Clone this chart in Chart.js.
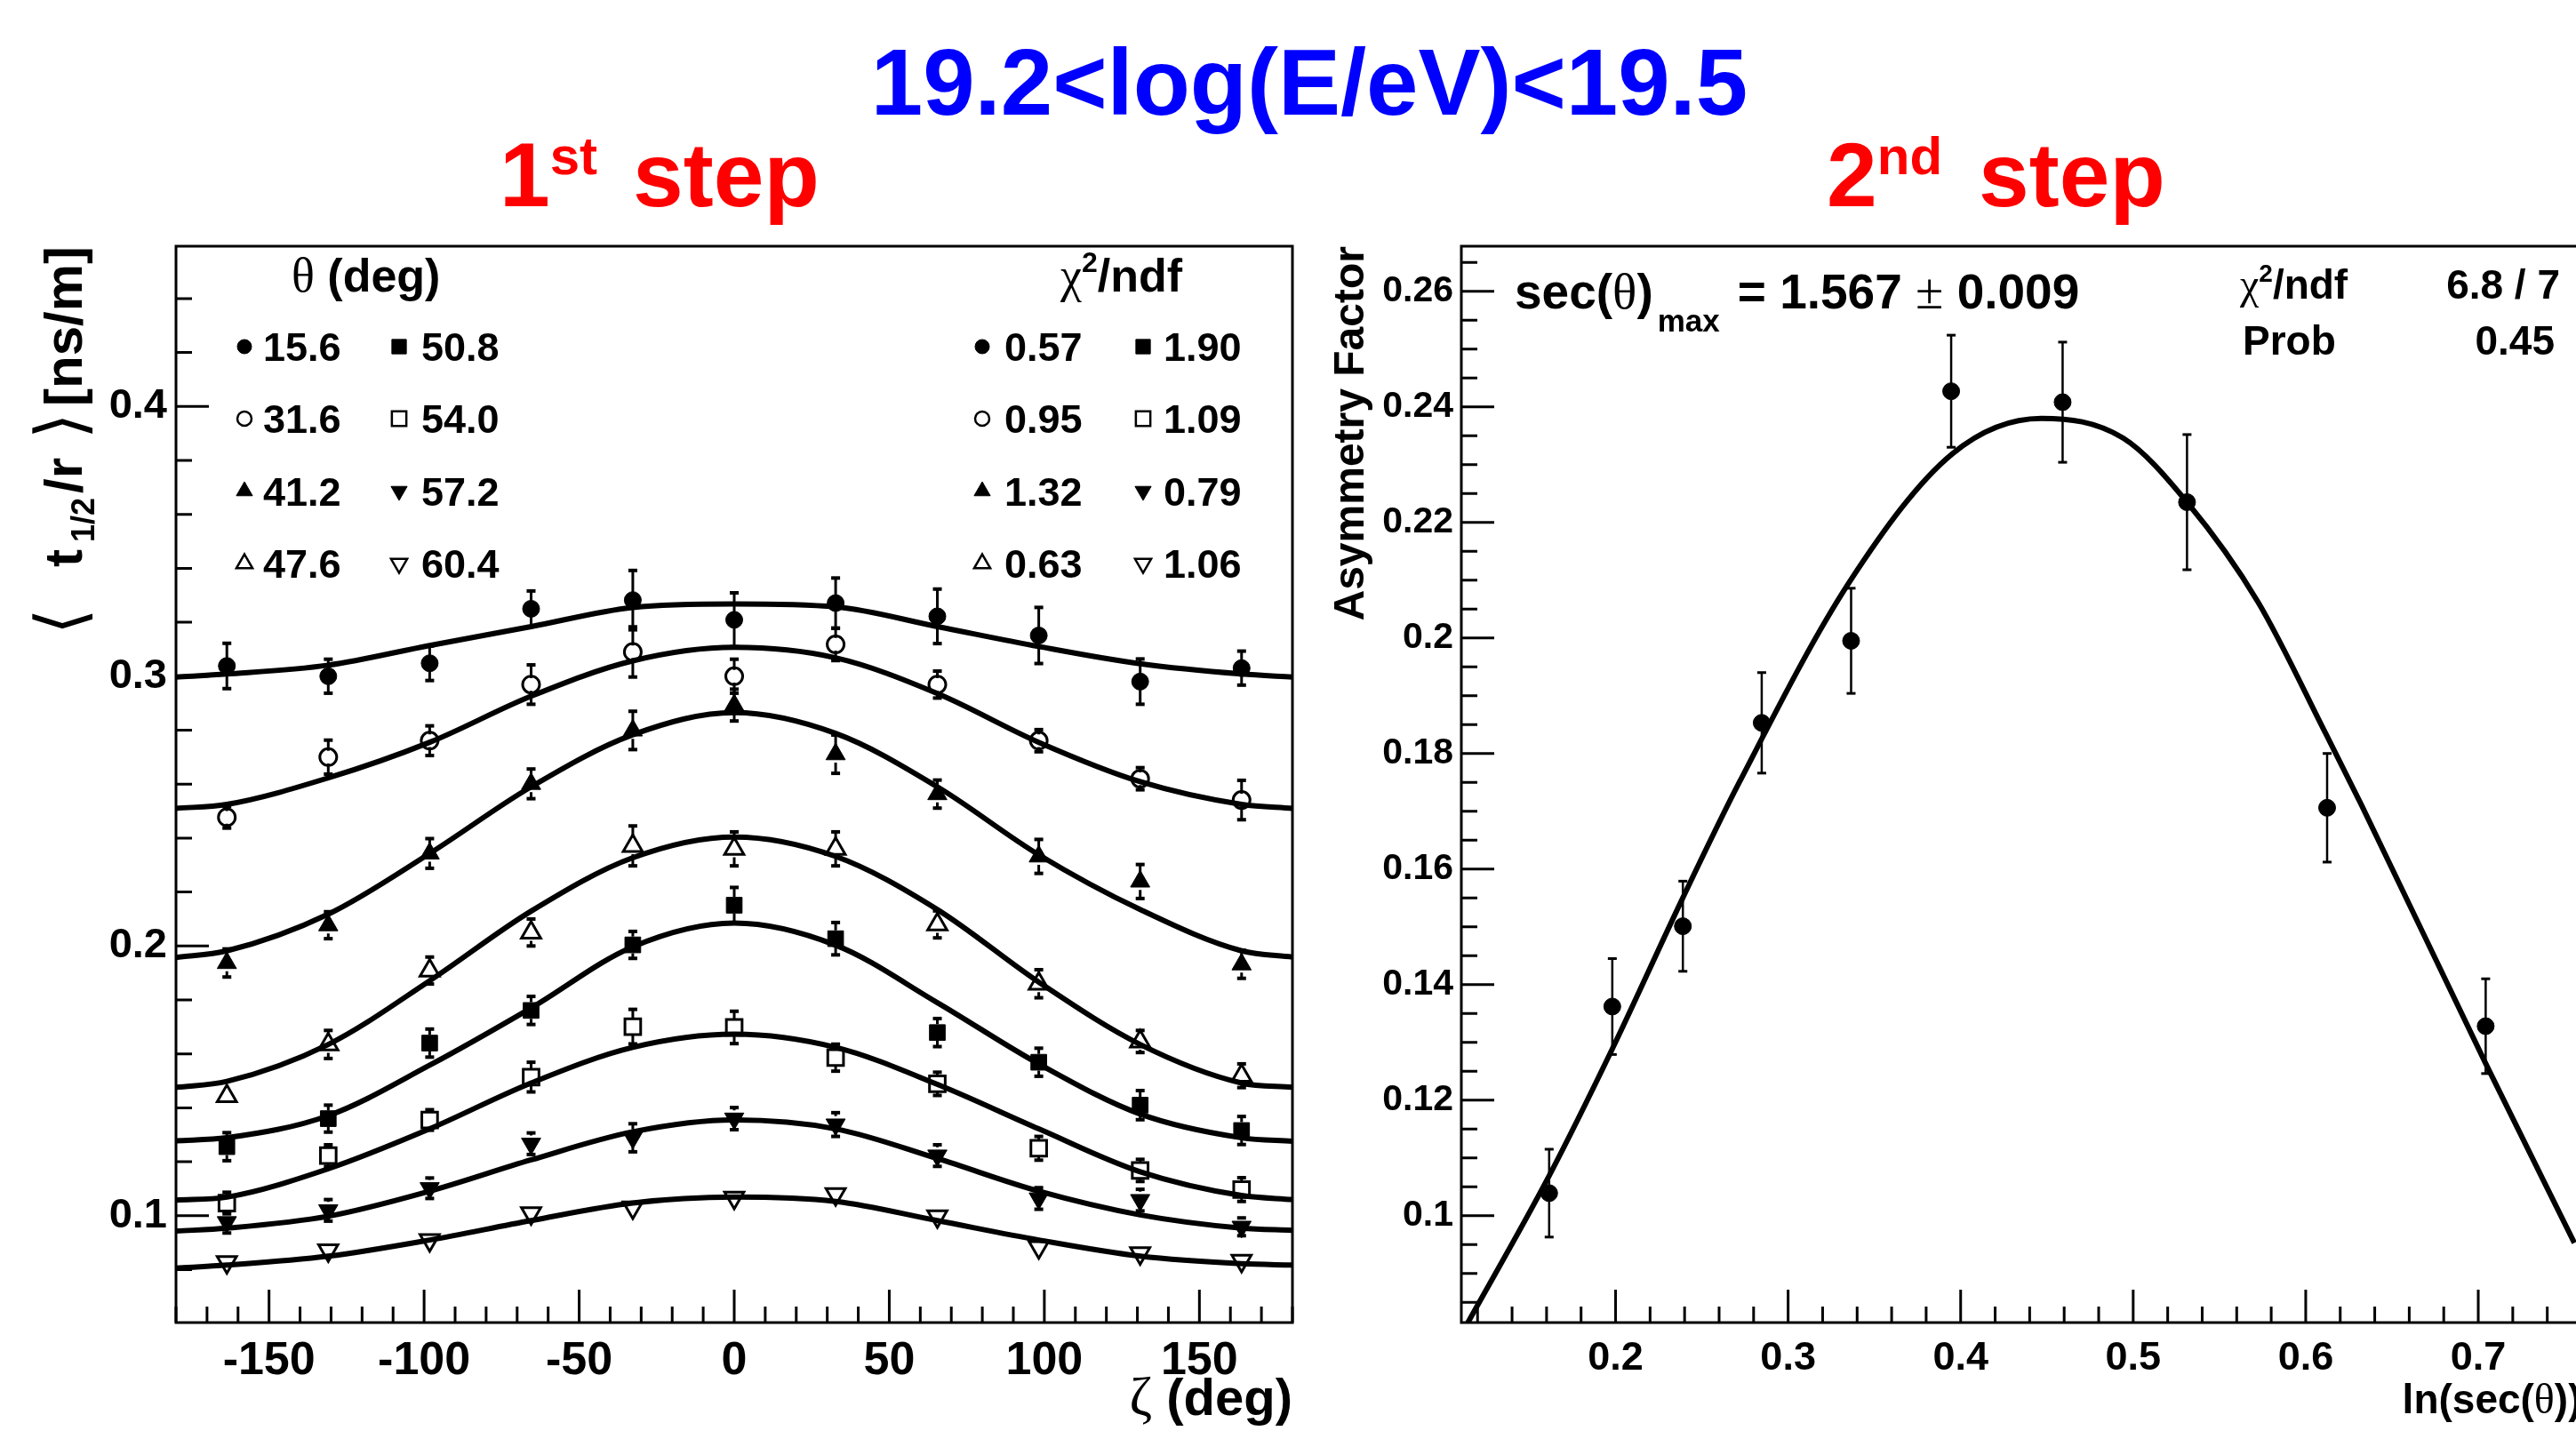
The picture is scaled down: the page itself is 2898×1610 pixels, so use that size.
<!DOCTYPE html>
<html>
<head>
<meta charset="utf-8">
<script src="https://cdn.jsdelivr.net/npm/chart.js@4/dist/chart.umd.min.js"></script>
<style>
body { margin: 0; background: #fff; }
#wrap { position: relative; width: 2898px; height: 1610px; overflow: hidden; background: #fff; }
canvas { position: absolute; top: 0; }
#title { position: absolute; top: 40px; left: 1473px; transform: translateX(-50%);
  font: bold 105px "Liberation Sans", Arial, sans-serif; line-height: 105px; color: #0000ff; white-space: nowrap; }
</style>
</head>
<body>
<div id="wrap">
  <div id="title">19.2&lt;log(E/eV)&lt;19.5</div>
  <canvas id="left" width="1460" height="1610" style="left:0"></canvas>
  <canvas id="right" width="1450" height="1610" style="left:1460px"></canvas>
</div>
<script>
// 1st step: <t1/2 / r> versus zeta, one set per zenith bin
const zeta = [-163.6, -130.9, -98.2, -65.5, -32.7, 0, 32.7, 65.5, 98.2, 130.9, 163.6];
const fitZeta = [-180, -163.6, -130.9, -98.2, -65.5, -32.7, 0, 32.7, 65.5, 98.2, 130.9, 163.6, 180];

const thetaLabels = ['15.6', '31.6', '41.2', '47.6', '50.8', '54.0', '57.2', '60.4'];
const chiLabels = ['0.57', '0.95', '1.32', '0.63', '1.90', '1.09', '0.79', '1.06'];

const val15_6 = [0.3038, 0.3000, 0.3048, 0.3250, 0.3282, 0.3209, 0.3271, 0.3222, 0.3151, 0.2980, 0.3030];
const err15_6 = [0.0084, 0.0063, 0.0064, 0.0066, 0.0110, 0.0100, 0.0093, 0.0101, 0.0104, 0.0084, 0.0063];
const fit15_6 = [0.2997, 0.3008, 0.3041, 0.3114, 0.3184, 0.3255, 0.3268, 0.3257, 0.3184, 0.3110, 0.3046, 0.3008, 0.2997];

const val31_6 = [0.2477, 0.2700, 0.2761, 0.2969, 0.3090, 0.3000, 0.3118, 0.2969, 0.2761, 0.2620, 0.2541];
const err31_6 = [0.0040, 0.0063, 0.0055, 0.0073, 0.0093, 0.0063, 0.0060, 0.0050, 0.0041, 0.0041, 0.0073];
const fit31_6 = [0.2510, 0.2525, 0.2623, 0.2755, 0.2926, 0.3057, 0.3107, 0.3068, 0.2936, 0.2755, 0.2609, 0.2525, 0.2510];

const val41_2 = [0.1937, 0.2077, 0.2343, 0.2601, 0.2799, 0.2893, 0.2711, 0.2563, 0.2332, 0.2239, 0.1932];
const err41_2 = [0.0052, 0.0050, 0.0055, 0.0055, 0.0071, 0.0059, 0.0071, 0.0052, 0.0063, 0.0063, 0.0052];
const fit41_2 = [0.1957, 0.1982, 0.2118, 0.2343, 0.2590, 0.2783, 0.2865, 0.2788, 0.2590, 0.2338, 0.2135, 0.1982, 0.1959];

const val47_6 = [0.1443, 0.1635, 0.1909, 0.2050, 0.2371, 0.2360, 0.2360, 0.2080, 0.1860, 0.1646, 0.1519];
const err47_6 = [0.0030, 0.0052, 0.0050, 0.0050, 0.0074, 0.0063, 0.0063, 0.0050, 0.0052, 0.0041, 0.0044];
const fit47_6 = [0.1476, 0.1498, 0.1635, 0.1871, 0.2129, 0.2327, 0.2404, 0.2332, 0.2135, 0.1866, 0.1635, 0.1492, 0.1476];

const val50_8 = [0.1256, 0.1360, 0.1640, 0.1761, 0.2004, 0.2151, 0.2027, 0.1679, 0.1569, 0.1410, 0.1316];
const err50_8 = [0.0052, 0.0050, 0.0052, 0.0052, 0.0050, 0.0066, 0.0060, 0.0052, 0.0052, 0.0054, 0.0052];
const fit50_8 = [0.1278, 0.1289, 0.1371, 0.1558, 0.1770, 0.1997, 0.2085, 0.2003, 0.1790, 0.1563, 0.1377, 0.1289, 0.1276];

const val54_0 = [0.1047, 0.1223, 0.1355, 0.1514, 0.1701, 0.1698, 0.1586, 0.1489, 0.1250, 0.1168, 0.1097];
const err54_0 = [0.0040, 0.0040, 0.0038, 0.0055, 0.0064, 0.0060, 0.0050, 0.0043, 0.0044, 0.0041, 0.0044];
const fit54_0 = [0.1058, 0.1069, 0.1174, 0.1322, 0.1492, 0.1624, 0.1673, 0.1624, 0.1487, 0.1322, 0.1163, 0.1075, 0.1060];

const val57_2 = [0.0976, 0.1020, 0.1102, 0.1267, 0.1289, 0.1360, 0.1338, 0.1223, 0.1064, 0.1058, 0.0959];
const err57_2 = [0.0040, 0.0040, 0.0038, 0.0040, 0.0052, 0.0041, 0.0044, 0.0040, 0.0040, 0.0040, 0.0033];
const fit57_2 = [0.0943, 0.0954, 0.0998, 0.1091, 0.1207, 0.1311, 0.1355, 0.1322, 0.1212, 0.1091, 0.1003, 0.0954, 0.0946];

const val60_4 = [0.0828, 0.0872, 0.0910, 0.1009, 0.1031, 0.1067, 0.1080, 0.0998, 0.0883, 0.0861, 0.0833];
const err60_4 = [0.0020, 0.0020, 0.0020, 0.0020, 0.0020, 0.0020, 0.0020, 0.0020, 0.0020, 0.0020, 0.0020];
const fit60_4 = [0.0806, 0.0817, 0.0850, 0.0910, 0.0982, 0.1047, 0.1069, 0.1053, 0.0982, 0.0910, 0.0850, 0.0822, 0.0817];

const zetaTicks = [-150, -100, -50, 0, 50, 100, 150];
const leftYTicks = [0.1, 0.2, 0.3, 0.4];

// 2nd step: asymmetry factor versus ln(sec(theta))
const lnSec = [0.1615, 0.1981, 0.2390, 0.2847, 0.3365, 0.3945, 0.4591, 0.5312, 0.6124, 0.7043];
const asym = [0.1039, 0.1362, 0.1501, 0.1853, 0.1995, 0.2427, 0.2408, 0.2235, 0.1706, 0.1328];
const asymErr = [0.0076, 0.0083, 0.0078, 0.0087, 0.0091, 0.0097, 0.0104, 0.0117, 0.0094, 0.0082];
const fitLnSec = [0.1131, 0.1615, 0.1980, 0.2388, 0.2717, 0.3356, 0.3953, 0.4468, 0.4941, 0.5312, 0.5724, 0.6115, 0.6321, 0.7042, 0.7557];
const fitAsym = [0.0808, 0.1069, 0.1288, 0.1549, 0.1750, 0.2097, 0.2319, 0.2380, 0.2346, 0.2235, 0.2062, 0.1835, 0.1712, 0.1264, 0.0953];

const lnSecTicks = [0.2, 0.3, 0.4, 0.5, 0.6, 0.7];
const asymTicks = [0.1, 0.12, 0.14, 0.16, 0.18, 0.2, 0.22, 0.24, 0.26];

const B = s => `bold ${s}px "Liberation Sans", Arial, sans-serif`;
const G = s => `${s}px "Liberation Serif", "DejaVu Serif", serif`;
const RIGHT_X = 1460;

const markers = [
  { style: 'circle', fill: true, rot: 0 },
  { style: 'circle', fill: false, rot: 0 },
  { style: 'triangle', fill: true, rot: 0 },
  { style: 'triangle', fill: false, rot: 0 },
  { style: 'rect', fill: true, rot: 0 },
  { style: 'rect', fill: false, rot: 0 },
  { style: 'triangle', fill: true, rot: 180 },
  { style: 'triangle', fill: false, rot: 180 }
];
const radius = { circle: 9.5, rect: 12.5, triangle: 12.5 };
const legendRadius = { circle: 8, rect: 11.5, triangle: 10.5 };

const values = [val15_6, val31_6, val41_2, val47_6, val50_8, val54_0, val57_2, val60_4];
const errors = [err15_6, err31_6, err41_2, err47_6, err50_8, err54_0, err57_2, err60_4];
const fits = [fit15_6, fit31_6, fit41_2, fit47_6, fit50_8, fit54_0, fit57_2, fit60_4];

function rich(ctx, parts, x, y, align) {
  let w = 0;
  parts.forEach(p => { ctx.font = p[1]; w += (p[3] || 0) + ctx.measureText(p[0]).width; });
  let cx = align === 'right' ? x - w : align === 'center' ? x - w / 2 : x;
  ctx.textAlign = 'left';
  ctx.textBaseline = 'alphabetic';
  parts.forEach(p => {
    ctx.font = p[1];
    cx += p[3] || 0;
    ctx.fillText(p[0], cx, y + (p[2] || 0));
    cx += ctx.measureText(p[0]).width;
  });
}

// frame plus ROOT style inward ticks
const rootAxes = {
  id: 'rootAxes',
  afterDatasetsDraw(chart, args, opts) {
    const { ctx, chartArea: a } = chart;
    ctx.save();
    ctx.strokeStyle = '#000';
    ctx.lineWidth = 3;
    ['x', 'y'].forEach(id => {
      const sc = chart.scales[id];
      const majors = sc.ticks.map(t => t.value);
      const step = opts[id];
      ctx.beginPath();
      for (let k = Math.ceil(sc.min / step - 1e-6); k * step <= sc.max + 1e-9; k++) {
        const v = k * step;
        const len = majors.some(m => Math.abs(m - v) < step / 10) ? 37 : 18;
        const p = sc.getPixelForValue(v);
        if (id === 'x') { ctx.moveTo(p, a.bottom); ctx.lineTo(p, a.bottom - len); }
        else { ctx.moveTo(a.left, p); ctx.lineTo(a.left + len, p); }
      }
      ctx.stroke();
    });
    ctx.strokeRect(a.left, a.top, a.right - a.left, a.bottom - a.top);
    ctx.restore();
  }
};

const errorBars = {
  id: 'errorBars',
  beforeDatasetsDraw(chart, args, opts) {
    const ctx = chart.ctx;
    const ys = chart.scales.y;
    ctx.save();
    ctx.strokeStyle = '#000';
    ctx.fillStyle = '#000';
    ctx.lineWidth = opts.width;
    chart.data.datasets.forEach((ds, di) => {
      if (!ds.errors) return;
      chart.getDatasetMeta(di).data.forEach((pt, i) => {
        const v = ds.data[i].y, e = ds.errors[i];
        const top = ys.getPixelForValue(v + e);
        const bot = ys.getPixelForValue(v - e);
        const gap = ds.errGap || 0;
        if (pt.y - top <= gap) return;
        ctx.beginPath();
        ctx.moveTo(pt.x, pt.y - gap); ctx.lineTo(pt.x, top);
        ctx.moveTo(pt.x, pt.y + gap); ctx.lineTo(pt.x, bot);
        ctx.stroke();
        ctx.fillRect(pt.x - opts.cap, top - opts.capH / 2, opts.cap * 2, opts.capH);
        ctx.fillRect(pt.x - opts.cap, bot - opts.capH / 2, opts.cap * 2, opts.capH);
      });
    });
    ctx.restore();
  }
};

function drawMarker(ctx, m, x, y) {
  ctx.fillStyle = m.fill ? '#000' : 'rgba(0,0,0,0)';
  ctx.strokeStyle = '#000';
  ctx.lineWidth = m.fill ? 1 : 2.5;
  Chart.helpers.drawPoint(ctx, { pointStyle: m.style, rotation: m.rot, radius: legendRadius[m.style], borderWidth: ctx.lineWidth }, x, y);
}

const leftText = {
  id: 'leftText',
  afterDraw(chart) {
    const ctx = chart.ctx;
    ctx.save();
    ctx.fillStyle = '#ff0000';
    rich(ctx, [['1', B(102)], ['st', B(60), -36], ['step', B(102), 0, 40]], 562, 232);

    ctx.fillStyle = '#000';
    rich(ctx, [['\u03b8', G(54)], [' (deg)', B(52)]], 328, 328);
    rich(ctx, [['\u03c7', G(54)], ['2', B(32), -22], ['/ndf', B(52)]], 1193, 328);
    const colX = [[275, 296, 449, 474], [1105, 1130, 1286, 1309]];
    const rowY = [406, 487, 568.5, 650];
    markers.forEach((m, i) => {
      const row = rowY[i % 4], c = i < 4 ? 0 : 2;
      [thetaLabels, chiLabels].forEach((labels, b) => {
        drawMarker(ctx, m, colX[b][c], row - 16);
        ctx.fillStyle = '#000';
        ctx.font = B(45);
        ctx.textAlign = 'left';
        ctx.fillText(labels[i], colX[b][c + 1], row);
      });
    });

    // axis titles
    rich(ctx, [['\u03b6', G(62)], [' (deg)', B(58)]], chart.chartArea.right, 1592, 'right');
    ctx.translate(92, 0);
    ctx.rotate(-Math.PI / 2);
    ctx.font = '76px "DejaVu Sans", sans-serif';
    ctx.fillText('\u27e8', -714, 2);
    ctx.font = B(60);
    ctx.fillText('t', -638, 0);
    ctx.font = B(36);
    ctx.fillText('1/2', -610, 14);
    ctx.font = B(60);
    ctx.fillText('/r', -555, 0);
    ctx.font = '76px "DejaVu Sans", sans-serif';
    ctx.fillText('\u27e9', -494, 2);
    ctx.font = B(60);
    ctx.textAlign = 'right';
    ctx.fillText('[ns/m]', -277, 0);
    ctx.restore();
  }
};

const rightText = {
  id: 'rightText',
  afterDraw(chart) {
    const ctx = chart.ctx;
    const a = chart.chartArea;
    ctx.save();
    ctx.fillStyle = '#ff0000';
    rich(ctx, [['2', B(102)], ['nd', B(60), -36], ['step', B(102), 0, 41]], 2055 - RIGHT_X, 232);

    ctx.fillStyle = '#000';
    rich(ctx, [['sec(', B(55)], ['\u03b8', G(57)], [')', B(55)], ['max', B(35), 26, 5],
      ['= 1.567 ', B(55), 0, 20], ['\u00b1', G(57)], [' 0.009', B(55)]], 1704 - RIGHT_X, 347);
    rich(ctx, [['\u03c7', G(48)], ['2', B(28), -19], ['/ndf', B(46)]], 2520 - RIGHT_X, 336);
    rich(ctx, [['6.8 / 7', B(46)]], 2880 - RIGHT_X, 336, 'right');
    rich(ctx, [['Prob', B(46)]], 2523 - RIGHT_X, 399);
    rich(ctx, [['0.45', B(46)]], 2874 - RIGHT_X, 399, 'right');

    rich(ctx, [['ln(sec(', B(46)], ['\u03b8', G(48)], ['))', B(46)]], a.right, 1590, 'right');
    ctx.translate(1534 - RIGHT_X, a.top);
    ctx.rotate(-Math.PI / 2);
    ctx.font = B(48);
    ctx.textAlign = 'right';
    ctx.fillText('Asymmetry Factor', 0, 0);
    ctx.restore();
  }
};

function tickFmt(v) { return String(+v.toFixed(3)); }

function axis(min, max, ticks, size, pad, horizontal, fit) {
  return {
    type: 'linear', min: min, max: max,
    grid: { display: false, drawTicks: false },
    border: { display: false },
    afterBuildTicks: s => { s.ticks = ticks.map(v => ({ value: v })); },
    afterFit: s => { if (horizontal) s.height = fit; else s.width = fit; },
    ticks: { color: '#000', font: { family: '"Liberation Sans", Arial, sans-serif', weight: 'bold', size: size },
      padding: pad, maxRotation: 0, autoSkip: false, callback: tickFmt }
  };
}

const leftSets = [];
fits.forEach((f, i) => {
  const m = markers[i];
  leftSets.push({
    data: fitZeta.map((x, k) => ({ x: x, y: f[k] })),
    showLine: true, pointRadius: 0, borderColor: '#000', borderWidth: 6,
    cubicInterpolationMode: 'monotone', order: 2
  });
  leftSets.push({
    data: zeta.map((x, k) => ({ x: x, y: values[i][k] })),
    errors: errors[i], errGap: radius[m.style] * 0.75,
    pointStyle: m.style, pointRotation: m.rot, pointRadius: radius[m.style],
    pointBackgroundColor: m.fill ? '#000' : 'rgba(0,0,0,0)',
    pointBorderColor: '#000', pointBorderWidth: m.fill ? 1 : 3,
    showLine: false, order: 1
  });
});

new Chart(document.getElementById('left'), {
  type: 'scatter',
  data: { datasets: leftSets },
  options: {
    responsive: false, animation: false,
    layout: { autoPadding: false, padding: { top: 277, right: 6, left: 0, bottom: 0 } },
    plugins: { legend: { display: false }, tooltip: { enabled: false },
      rootAxes: { x: 10, y: 0.02 }, errorBars: { width: 3, cap: 5, capH: 4 } },
    scales: {
      x: axis(-180, 180, zetaTicks, 52, 12, true, 122),
      y: axis(0.0604, 0.4594, leftYTicks, 47, 10, false, 198)
    }
  },
  plugins: [errorBars, rootAxes, leftText]
});

new Chart(document.getElementById('right'), {
  type: 'scatter',
  data: {
    datasets: [
      { data: fitLnSec.map((x, k) => ({ x: x, y: fitAsym[k] })),
        showLine: true, pointRadius: 0, borderColor: '#000', borderWidth: 6,
        cubicInterpolationMode: 'monotone', order: 2 },
      { data: lnSec.map((x, k) => ({ x: x, y: asym[k] })),
        errors: asymErr, errGap: 8,
        pointStyle: 'circle', pointRadius: 9.5, pointBackgroundColor: '#000', pointBorderColor: '#000',
        pointBorderWidth: 1, showLine: false, order: 1 }
    ]
  },
  options: {
    responsive: false, animation: false,
    layout: { autoPadding: false, padding: { top: 277, right: 5.5, left: 0, bottom: 0 } },
    plugins: { legend: { display: false }, tooltip: { enabled: false },
      rootAxes: { x: 0.02, y: 0.005 }, errorBars: { width: 2.5, cap: 5, capH: 3 } },
    scales: {
      x: axis(0.1106, 0.76, lnSecTicks, 45, 14, true, 122),
      y: axis(0.0815, 0.2678, asymTicks, 41, 9, false, 184)
    }
  },
  plugins: [errorBars, rootAxes, rightText]
});
</script>
</body>
</html>
